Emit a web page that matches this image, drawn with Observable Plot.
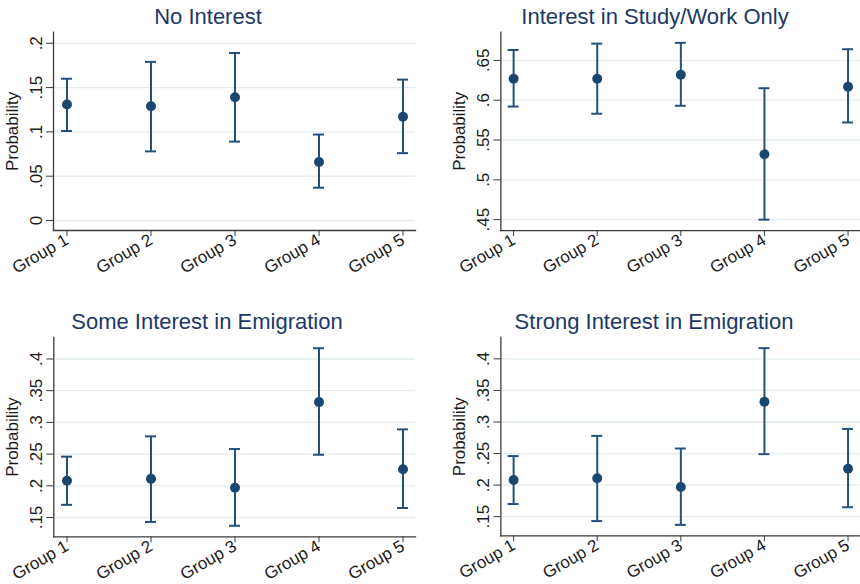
<!DOCTYPE html>
<html>
<head>
<meta charset="utf-8">
<script src="https://cdn.jsdelivr.net/npm/d3@7"></script>
<script src="https://cdn.jsdelivr.net/npm/@observablehq/plot@0.6"></script>
<style>
  html, body { margin: 0; padding: 0; background: #fff; overflow: hidden; }
  #wrap { position: relative; width: 860px; height: 584px; overflow: hidden; background: #fff; }
  .title { position: absolute; width: 400px; text-align: center; font-family: "Liberation Sans", Arial, sans-serif;
           font-size: 22px; line-height: 22px; color: #1c3866; white-space: nowrap; }
  .panel { position: absolute; }
  .panel svg { display: block; }
</style>
</head>
<body>
<div id="wrap"></div>
<script>
// ---- data ----
const groups = ["Group 1", "Group 2", "Group 3", "Group 4", "Group 5"];

const titles = ["No Interest", "Interest in Study/Work Only", "Some Interest in Emigration", "Strong Interest in Emigration"];

const noInterestEst = [0.131, 0.129, 0.139, 0.066, 0.117];
const noInterestLo  = [0.101, 0.078, 0.089, 0.037, 0.076];
const noInterestHi  = [0.160, 0.179, 0.189, 0.097, 0.159];

const studyWorkEst = [0.627, 0.627, 0.632, 0.532, 0.617];
const studyWorkLo  = [0.592, 0.583, 0.593, 0.450, 0.572];
const studyWorkHi  = [0.663, 0.671, 0.672, 0.615, 0.664];

const someEmigEst = [0.208, 0.211, 0.197, 0.332, 0.226];
const someEmigLo  = [0.170, 0.143, 0.137, 0.249, 0.165];
const someEmigHi  = [0.246, 0.278, 0.258, 0.417, 0.289];

const strongEmigEst = [0.208, 0.211, 0.197, 0.332, 0.226];
const strongEmigLo  = [0.170, 0.143, 0.137, 0.249, 0.165];
const strongEmigHi  = [0.246, 0.278, 0.258, 0.417, 0.289];

const ticksNoInterest = [0, 0.05, 0.1, 0.15, 0.2];
const ticksStudyWork  = [0.45, 0.5, 0.55, 0.6, 0.65];
const ticksEmig       = [0.15, 0.2, 0.25, 0.3, 0.35, 0.4];

const domainNoInterest = [-0.0113, 0.2125];
const domainStudyWork  = [0.4363, 0.6854];
const domainEmig       = [0.1196, 0.4339];

// ---- drawing ----
const fmt = d => d === 0 ? "0" : d3.format(".2~f")(d).replace(/^0\./, ".");
const font = "'Liberation Sans', Arial, Helvetica, sans-serif";

function panel(est, lo, hi, yDomain, yTicks, o) {
  const data = groups.map((g, i) => ({g, est: est[i], lo: lo[i], hi: hi[i]}));
  return Plot.plot({
    width: o.width, height: o.height,
    marginLeft: o.marginLeft, marginRight: o.marginRight,
    marginTop: o.marginTop, marginBottom: o.marginBottom,
    style: {fontFamily: font, fontSize: "17px", color: "#1a1a1a", background: "transparent", overflow: "visible"},
    x: {type: "band", domain: groups, paddingInner: 0.87, paddingOuter: 0.069},
    y: {domain: yDomain},
    marks: [
      Plot.gridY(yTicks, {stroke: "#e2ebef", strokeOpacity: 1, strokeWidth: 1.3}),
      Plot.frame({anchor: "left", stroke: "#3a3a3a", strokeWidth: 1.3}),
      Plot.frame({anchor: "bottom", stroke: "#3a3a3a", strokeWidth: 1.3}),
      Plot.axisY(yTicks, {tickFormat: fmt, tickRotate: -90, tickSize: 7, tickPadding: 5,
        label: "Probability", labelAnchor: "center", labelOffset: 48, labelArrow: "none", fontSize: 17, stroke: "#3a3a3a"}),
      Plot.axisX({tickRotate: -30, tickSize: 6, tickPadding: 2, label: null, fontSize: 17, stroke: "#3a3a3a"}),
      Plot.ruleX(data, {x: "g", y1: "lo", y2: "hi", stroke: "#24507d", strokeWidth: 2}),
      Plot.tickY(data, {x: "g", y: "hi", stroke: "#24507d", strokeWidth: 2}),
      Plot.tickY(data, {x: "g", y: "lo", stroke: "#24507d", strokeWidth: 2}),
      Plot.dot(data, {x: "g", y: "est", r: 5, fill: "#1a476f", stroke: "none"})
    ]
  });
}

const wrap = document.getElementById("wrap");
function place(node, left, top) {
  const d = document.createElement("div");
  d.className = "panel";
  d.style.left = left + "px";
  d.style.top = top + "px";
  d.appendChild(node);
  wrap.appendChild(d);
}
function title(text, cx, top) {
  const t = document.createElement("div");
  t.className = "title";
  t.textContent = text;
  t.style.left = (cx - 200) + "px";
  t.style.top = top + "px";
  wrap.appendChild(t);
}

title(titles[0], 208, 5.5);
title(titles[1], 655, 5.5);
title(titles[2], 207, 311.3);
title(titles[3], 654, 311.3);

place(panel(noInterestEst, noInterestLo, noInterestHi, domainNoInterest, ticksNoInterest,
  {width: 430, height: 264, marginLeft: 53, marginRight: 15, marginTop: 3.7, marginBottom: 62}), 0, 28);
place(panel(studyWorkEst, studyWorkLo, studyWorkHi, domainStudyWork, ticksStudyWork,
  {width: 432, height: 264, marginLeft: 70.7, marginRight: 0, marginTop: 3.7, marginBottom: 61}), 430, 28);
place(panel(someEmigEst, someEmigLo, someEmigHi, domainEmig, ticksEmig,
  {width: 430, height: 252, marginLeft: 53.3, marginRight: 15, marginTop: 5, marginBottom: 47.7}), 0, 332);
place(panel(strongEmigEst, strongEmigLo, strongEmigHi, domainEmig, ticksEmig,
  {width: 432, height: 252, marginLeft: 70.7, marginRight: 0, marginTop: 5, marginBottom: 47.7}), 430, 332);
</script>
</body>
</html>
